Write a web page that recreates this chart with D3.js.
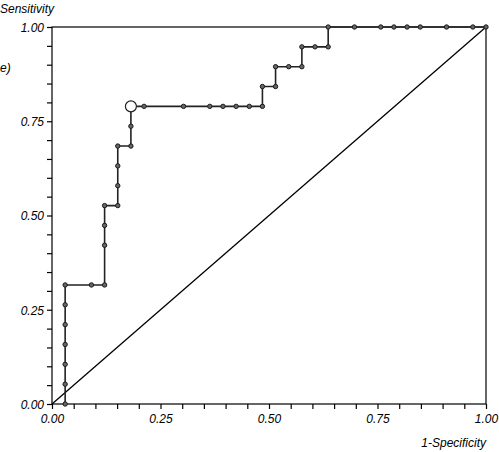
<!DOCTYPE html>
<html>
<head>
<meta charset="utf-8">
<script src="https://cdn.jsdelivr.net/npm/d3@7"></script>
<style>
  body { margin: 0; background: #fff; }
  svg text { font-family: "Liberation Sans", Arial, sans-serif; font-style: italic; font-size: 12px; fill: #000; }
</style>
</head>
<body>
<div id="chart"></div>
<script>
// ROC curve, 33 negatives / 19 positives
const fprCounts = [1, 1, 1, 1, 1, 1, 1, 3, 4, 4, 4, 4, 5, 5, 5, 5, 6, 6, 6, 7, 10, 12, 13, 14, 15, 16, 16, 17, 17, 18, 19, 19, 20, 21, 21, 23, 25, 26, 27, 28, 30, 32, 33];
const tprCounts = [0, 1, 2, 3, 4, 5, 6, 6, 6, 8, 9, 10, 10, 11, 12, 13, 13, 14, 15, 15, 15, 15, 15, 15, 15, 15, 16, 16, 17, 17, 17, 18, 18, 18, 19, 19, 19, 19, 19, 19, 19, 19, 19];
const nNeg = 33;
const nPos = 19;
const cutoff = [6, 15]; // highlighted point (fpr count, tpr count)
const tickVals = d3.range(0, 21).map(i => i * 0.05);

const W = 499;
const H = 452;
const margin = { t: 27, r: 13, b: 48, l: 52 };

const x = d3.scaleLinear().domain([0, 1]).range([margin.l, W - margin.r]);
const y = d3.scaleLinear().domain([0, 1]).range([H - margin.b, margin.t]);

const pts = fprCounts.map((f, i) => ({ x: f / nNeg, y: tprCounts[i] / nPos }));

const svg = d3.select('#chart').append('svg')
  .attr('width', W)
  .attr('height', H);

const fmt = d => (Math.round(d * 100) % 25 === 0 ? d3.format('.2f')(d) : '');

// Axes
const xAxis = d3.axisBottom(x).tickValues(tickVals).tickFormat(fmt).tickSize(5).tickSizeOuter(0);
const yAxis = d3.axisLeft(y).tickValues(tickVals).tickFormat(fmt).tickSize(5).tickSizeOuter(0);

const gx = svg.append('g')
  .attr('transform', `translate(0, ${y(0)})`)
  .call(xAxis);
const gy = svg.append('g')
  .attr('transform', `translate(${x(0)}, 0)`)
  .call(yAxis);

[gx, gy].forEach(g => {
  g.select('.domain').remove();
  g.selectAll('line').attr('stroke', '#000').attr('stroke-width', 1.2);
  g.selectAll('text').attr('font-size', null).attr('font-family', null);
});
gx.selectAll('text').attr('dy', '0.95em');
gy.selectAll('text').attr('x', -8).attr('dy', '0.36em');

// Frame
svg.append('rect')
  .attr('x', x(0))
  .attr('y', y(1))
  .attr('width', x(1) - x(0))
  .attr('height', y(0) - y(1))
  .attr('fill', 'none')
  .attr('stroke', '#000')
  .attr('stroke-width', 1.2);

// Diagonal
svg.append('line')
  .attr('x1', x(0)).attr('y1', y(0))
  .attr('x2', x(1)).attr('y2', y(1))
  .attr('stroke', '#000')
  .attr('stroke-width', 1.3);

// Step curve
const line = d3.line()
  .x(d => x(d.x))
  .y(d => y(d.y));

svg.append('path')
  .datum(pts)
  .attr('fill', 'none')
  .attr('stroke', '#222')
  .attr('stroke-width', 1.6);

svg.select('path:last-of-type').attr('d', line);

svg.append('g')
  .selectAll('circle')
  .data(pts)
  .join('circle')
  .attr('cx', d => x(d.x))
  .attr('cy', d => y(d.y))
  .attr('r', 2.2)
  .attr('fill', '#666')
  .attr('stroke', '#1a1a1a')
  .attr('stroke-width', 1);

svg.append('circle')
  .attr('cx', x(cutoff[0] / nNeg))
  .attr('cy', y(cutoff[1] / nPos))
  .attr('r', 5.5)
  .attr('fill', '#fff')
  .attr('stroke', '#222')
  .attr('stroke-width', 1.2);

// Labels
svg.append('text')
  .attr('x', 0)
  .attr('y', 13)
  .text('Sensitivity');

svg.append('text')
  .attr('x', 0)
  .attr('y', 72)
  .text('e)');

svg.append('text')
  .attr('x', x(1))
  .attr('y', 447)
  .attr('text-anchor', 'end')
  .text('1-Specificity');
</script>
</body>
</html>
